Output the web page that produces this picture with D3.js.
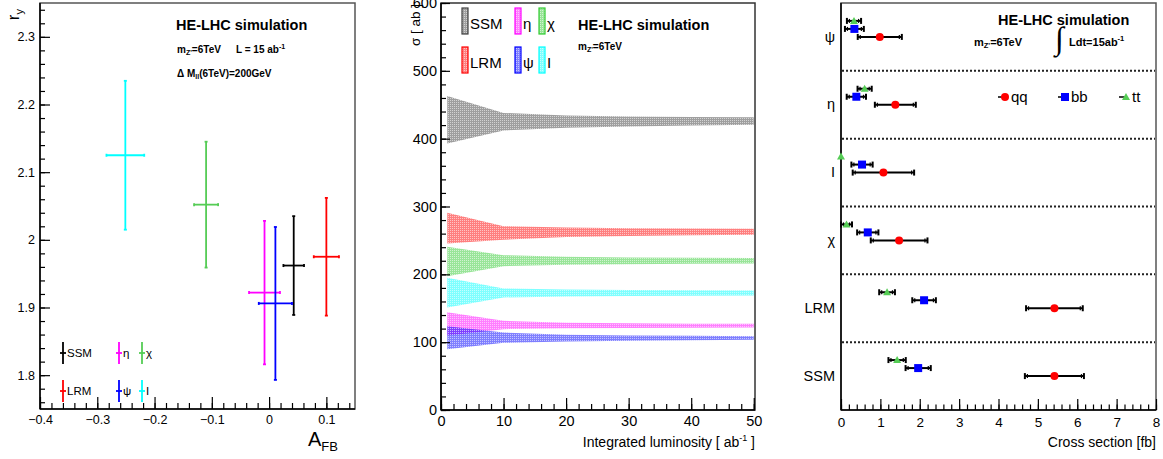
<!DOCTYPE html>
<html><head><meta charset="utf-8">
<script src="https://cdn.jsdelivr.net/npm/d3@7"></script>
<style>
body{margin:0;background:#fff;}
svg{display:block;font-family:"Liberation Sans",Arial,Helvetica,sans-serif;}
</style>
</head><body>
<svg id="c" width="1163" height="459"></svg>
<script>
// ================= DATA =================
// Panel A : r_y versus A_FB
const modelsA   = ["SSM","LRM","η","ψ","χ","I"];
const colorsA   = ["#000000","#ff0000","#ff00ff","#0000ff","#55cc55","#00ffff"];
const afbValues = [0.043, 0.100, -0.008, 0.011, -0.110, -0.251];
const afbErrors = [0.018, 0.022, 0.027, 0.029, 0.021, 0.033];
const ryValues  = [1.962, 1.975, 1.922, 1.906, 2.052, 2.125];
const ryErrors  = [0.073, 0.087, 0.106, 0.113, 0.093, 0.110];
const afbTicks  = [-0.4,-0.3,-0.2,-0.1,0,0.1];
const ryTicks   = [1.8,1.9,2.0,2.1,2.2,2.3];

// Panel B : cross-section band vs integrated luminosity
const lumiPoints = [1, 10, 20, 30, 40, 50];
const bandModels = ["SSM","η","χ","LRM","ψ","I"];
const bandColors = ["#404040","#ff00ff","#33cc33","#ff0000","#0000ff","#00ffff"];
const sigmaSSMLow  = [393, 412, 416, 418, 419.5, 420.5];
const sigmaSSMHigh = [463, 438, 434, 432.5, 431.8, 431.4];
const sigmaEtaLow  = [110, 119.2, 120.5, 121, 121.4, 121.7];
const sigmaEtaHigh = [144, 131.4, 128.5, 127.8, 127.3, 127];
const sigmaChiLow  = [197.3, 212, 214, 215, 215.5, 216];
const sigmaChiHigh = [240.6, 228.3, 226, 225, 224.4, 223.9];
const sigmaLRMLow  = [245.6, 251, 255, 256.5, 257.5, 258.3];
const sigmaLRMHigh = [290.7, 271, 269, 268, 267.5, 267.1];
const sigmaPsiLow  = [89.7, 99, 101, 102, 102.8, 103.4];
const sigmaPsiHigh = [123.6, 114.3, 111, 110, 109.3, 108.8];
const sigmaILow    = [151.2, 165.9, 167.5, 168.2, 168.6, 168.9];
const sigmaIHigh   = [194.8, 179.2, 177.5, 176.8, 176.4, 176.2];
const lumiTicks  = [0,10,20,30,40,50];
const sigmaTicks = [0,100,200,300,400,500,600];

// Panel C : cross sections per final state
const modelsC   = ["ψ","η","I","χ","LRM","SSM"];
const channels  = ["qq","bb","tt"];
const channelColors = ["#ff0000","#0000ff","#55cc55"];
const qqValues  = [0.985, 1.38, 1.077, 1.476, 5.42, 5.42];
const qqErrors  = [0.56, 0.52, 0.78, 0.72, 0.72, 0.75];
const bbValues  = [0.34, 0.39, 0.534, 0.68, 2.11, 1.96];
const bbErrors  = [0.24, 0.245, 0.27, 0.27, 0.30, 0.32];
const ttValues  = [0.33, 0.60, 0.0, 0.14, 1.17, 1.425];
const ttErrors  = [0.18, 0.18, 0.0, 0.14, 0.20, 0.22];
const xsTicks   = [0,1,2,3,4,5,6,7,8];

// ================= DRAWING =================
const svg = d3.select("#c");
const FONT = '"Liberation Sans",Arial,Helvetica,sans-serif';
const fmt = d3.format("~g");

function styleAxis(g, size){
  g.attr("font-size", size).attr("font-family", FONT);
  g.selectAll("text").attr("fill","#000");
  g.selectAll("line").attr("stroke","#000").attr("stroke-width",1.2);
  g.select(".domain").remove();
}
function minorRange(a,b,step){ return d3.range(Math.round(a/step), Math.round(b/step)+1).map(i=>+(i*step).toFixed(6)); }

// ---------- Panel A ----------
const xA = d3.scaleLinear().domain([-0.4,0.15]).range([40,355]);
const yA = d3.scaleLinear().domain([1.75,2.35]).range([409,3]);
const gA = svg.append("g");
gA.append("rect").attr("x",40).attr("y",3).attr("width",315).attr("height",406)
  .attr("fill","none").attr("stroke","#555").attr("stroke-width",1.5);
gA.append("g").attr("transform","translate(0,409)")
  .call(d3.axisBottom(xA).tickValues(minorRange(-0.4,0.14,0.02)).tickSizeInner(-6).tickSizeOuter(0).tickFormat(""))
  .call(g=>styleAxis(g,12));
gA.append("g").attr("transform","translate(0,409)")
  .call(d3.axisBottom(xA).tickValues(afbTicks).tickSizeInner(-12).tickSizeOuter(0).tickPadding(6).tickFormat(fmt))
  .call(g=>styleAxis(g,12.5));
gA.append("g").attr("transform","translate(40,0)")
  .call(d3.axisLeft(yA).tickValues(minorRange(1.76,2.34,0.02)).tickSizeInner(-5).tickSizeOuter(0).tickFormat(""))
  .call(g=>styleAxis(g,12));
gA.append("g").attr("transform","translate(40,0)")
  .call(d3.axisLeft(yA).tickValues(ryTicks).tickSizeInner(-10).tickSizeOuter(0).tickPadding(5).tickFormat(fmt))
  .call(g=>styleAxis(g,12.5));
gA.append("line").attr("x1",40).attr("x2",40).attr("y1",3).attr("y2",409).attr("stroke","#000").attr("stroke-width",1.5);
gA.append("line").attr("x1",40).attr("x2",355).attr("y1",409).attr("y2",409).attr("stroke","#000").attr("stroke-width",1.5);

// error crosses
modelsA.forEach((m,i)=>{
  const c = colorsA[i], g = gA.append("g").attr("stroke",c).attr("stroke-width",1.8);
  const cx = xA(afbValues[i]), cy = yA(ryValues[i]);
  const x0 = xA(afbValues[i]-afbErrors[i]), x1 = xA(afbValues[i]+afbErrors[i]);
  const y0 = yA(ryValues[i]-ryErrors[i]), y1 = yA(ryValues[i]+ryErrors[i]);
  g.append("line").attr("x1",x0).attr("x2",x1).attr("y1",cy).attr("y2",cy);
  g.append("line").attr("x1",cx).attr("x2",cx).attr("y1",y0).attr("y2",y1);
  [x0,x1].forEach(x=>g.append("line").attr("x1",x).attr("x2",x).attr("y1",cy-1.5).attr("y2",cy+1.5));
  [y0,y1].forEach(y=>g.append("line").attr("x1",cx-1.5).attr("x2",cx+1.5).attr("y1",y).attr("y2",y));
});
// legend A
const legColsA = [63,119,142], legRowsA = [353,391];
const legOrderA = ["SSM","η","χ","LRM","ψ","I"];
legOrderA.forEach((m,k)=>{
  const i = modelsA.indexOf(m), x = legColsA[k%3], y = legRowsA[Math.floor(k/3)];
  const g = gA.append("g").attr("stroke",colorsA[i]).attr("stroke-width",1.8);
  g.append("line").attr("x1",x).attr("x2",x).attr("y1",y-11).attr("y2",y+11);
  g.append("line").attr("x1",x-3).attr("x2",x+3).attr("y1",y).attr("y2",y);
  gA.append("text").attr("x",x+4).attr("y",y+4).attr("font-size",11.5).attr("font-family",FONT).text(m);
});
// texts A
gA.append("text").attr("x",176).attr("y",30).attr("font-size",14.5).attr("font-weight","bold").text("HE-LHC simulation");
const tA1 = gA.append("text").attr("x",177).attr("y",53).attr("font-size",10).attr("font-weight","bold");
tA1.append("tspan").text("m");
tA1.append("tspan").attr("font-size",7).attr("dy",2).text("Z'");
tA1.append("tspan").attr("dy",-2).text("=6TeV");
tA1.append("tspan").attr("x",236).text("L = 15 ab");
tA1.append("tspan").attr("font-size",7).attr("dy",-4).text("-1");
const tA2 = gA.append("text").attr("x",177).attr("y",77).attr("font-size",10).attr("font-weight","bold");
tA2.append("tspan").text("Δ M");
tA2.append("tspan").attr("font-size",7).attr("dy",2).text("ll");
tA2.append("tspan").attr("dy",-2).text("(6TeV)=200GeV");
const lA = gA.append("text").attr("transform","translate(19,9) rotate(-90)").attr("text-anchor","end").attr("font-size",17);
lA.append("tspan").text("r");
lA.append("tspan").attr("font-size",11).attr("dy",4).text("y");
const xlA = gA.append("text").attr("x",308).attr("y",446).attr("font-size",20);
xlA.append("tspan").text("A");
xlA.append("tspan").attr("font-size",13).attr("dy",5).text("FB");

// ---------- Panel B ----------
const xB = d3.scaleLinear().domain([0,50.2]).range([441,755]);
const yB = d3.scaleLinear().domain([0,600]).range([410,3]);
const gB = svg.append("g");
const defs = svg.append("defs");
bandModels.forEach((m,i)=>{
  const p = defs.append("pattern").attr("id","pat"+i).attr("width",2).attr("height",2).attr("patternUnits","userSpaceOnUse");
  p.append("rect").attr("width",2).attr("height",2).attr("fill",bandColors[i]).attr("opacity",0.5);
  p.append("rect").attr("width",1).attr("height",1).attr("fill","#ffffff").attr("opacity",0.55);
});
const lows  = [sigmaSSMLow, sigmaEtaLow, sigmaChiLow, sigmaLRMLow, sigmaPsiLow, sigmaILow];
const highs = [sigmaSSMHigh, sigmaEtaHigh, sigmaChiHigh, sigmaLRMHigh, sigmaPsiHigh, sigmaIHigh];
const area = d3.area().x(d=>xB(d.l)).y0(d=>yB(d.lo)).y1(d=>yB(d.hi));
bandModels.forEach((m,i)=>{
  const pts = lumiPoints.map((l,j)=>({l, lo:lows[i][j], hi:highs[i][j]}));
  gB.append("path").datum(pts).attr("d",area).attr("fill","url(#pat"+i+")");
});
gB.append("rect").attr("x",441).attr("y",3).attr("width",314).attr("height",407)
  .attr("fill","none").attr("stroke","#333").attr("stroke-width",1.5);
gB.append("g").attr("transform","translate(0,410)")
  .call(d3.axisBottom(xB).tickValues(minorRange(0,50,2)).tickSizeInner(-6).tickSizeOuter(0).tickFormat(""))
  .call(g=>styleAxis(g,14));
gB.append("g").attr("transform","translate(0,410)")
  .call(d3.axisBottom(xB).tickValues(lumiTicks).tickSizeInner(-12).tickSizeOuter(0).tickPadding(6).tickFormat(fmt))
  .call(g=>styleAxis(g,14.5));
gB.append("g").attr("transform","translate(441,0)")
  .call(d3.axisLeft(yB).tickValues(minorRange(0,600,20)).tickSizeInner(-5).tickSizeOuter(0).tickFormat(""))
  .call(g=>styleAxis(g,14));
gB.append("g").attr("transform","translate(441,0)")
  .call(d3.axisLeft(yB).tickValues(sigmaTicks).tickSizeInner(-9).tickSizeOuter(0).tickPadding(4).tickFormat(fmt))
  .call(g=>styleAxis(g,14.5));
gB.append("line").attr("x1",441).attr("x2",441).attr("y1",3).attr("y2",410).attr("stroke","#000").attr("stroke-width",1.5);
gB.append("line").attr("x1",441).attr("x2",755).attr("y1",410).attr("y2",410).attr("stroke","#000").attr("stroke-width",1.5);
// legend B
const legColsB = [462,515,539], legRowsB = [8,47];
bandModels.forEach((m,i)=>{
  const x = legColsB[i%3], y = legRowsB[Math.floor(i/3)];
  gB.append("rect").attr("x",x).attr("y",y).attr("width",6).attr("height",26)
    .attr("fill","url(#pat"+i+")").attr("stroke",bandColors[i]).attr("stroke-width",1.2);
  gB.append("text").attr("x",x+8).attr("y",y+21).attr("font-size",15).text(m);
});
gB.append("text").attr("x",578).attr("y",30).attr("font-size",14.5).attr("font-weight","bold").text("HE-LHC simulation");
const tB1 = gB.append("text").attr("x",578).attr("y",50).attr("font-size",10).attr("font-weight","bold");
tB1.append("tspan").text("m");
tB1.append("tspan").attr("font-size",7).attr("dy",2).text("Z'");
tB1.append("tspan").attr("dy",-2).text("=6TeV");
gB.append("text").attr("transform","translate(420,4) rotate(-90)").attr("text-anchor","end").attr("font-size",13.5).text("σ [ ab ]");
const xlB = gB.append("text").attr("x",755).attr("y",447).attr("text-anchor","end").attr("font-size",14);
xlB.append("tspan").text("Integrated luminosity [ ab");
xlB.append("tspan").attr("font-size",9).attr("dy",-6).text("-1");
xlB.append("tspan").attr("dy",6).text(" ]");

// ---------- Panel C ----------
const xC = d3.scaleLinear().domain([0,8]).range([841,1156]);
const yC = d3.scaleBand().domain(modelsC).range([3,410]).paddingInner(0);
const gC = svg.append("g");
gC.append("rect").attr("x",841).attr("y",3).attr("width",315).attr("height",407)
  .attr("fill","none").attr("stroke","#555").attr("stroke-width",1.5);
modelsC.slice(1).forEach(m=>{
  gC.append("line").attr("x1",842).attr("x2",1155).attr("y1",yC(m)).attr("y2",yC(m))
    .attr("stroke","#222").attr("stroke-width",2).attr("stroke-dasharray","2,2");
});
gC.append("g").attr("transform","translate(0,410)")
  .call(d3.axisBottom(xC).tickValues(minorRange(0,8,0.2)).tickSizeInner(-5.5).tickSizeOuter(0).tickFormat(""))
  .call(g=>styleAxis(g,14));
gC.append("g").attr("transform","translate(0,410)")
  .call(d3.axisBottom(xC).tickValues(xsTicks).tickSizeInner(-11).tickSizeOuter(0).tickPadding(7).tickFormat(fmt))
  .call(g=>styleAxis(g,13.5));
gC.append("g").attr("transform","translate(841,0)")
  .call(d3.axisLeft(yC).tickSize(0).tickPadding(6))
  .call(g=>styleAxis(g,14.5));
gC.append("line").attr("x1",841).attr("x2",841).attr("y1",3).attr("y2",410).attr("stroke","#000").attr("stroke-width",1.5);
gC.append("line").attr("x1",841).attr("x2",1156).attr("y1",410).attr("y2",410).attr("stroke","#000").attr("stroke-width",1.5);

const chanVals = [qqValues, bbValues, ttValues], chanErrs = [qqErrors, bbErrors, ttErrors];
const bw = yC.bandwidth();
const chanOffset = d3.scaleOrdinal().domain(channels).range([0, -0.118*bw, -0.236*bw]);
function marker(g, ch, x, y, s){
  s = s || 1;
  const c = channelColors[channels.indexOf(ch)];
  if(ch==="qq") g.append("circle").attr("cx",x).attr("cy",y).attr("r",4*s).attr("fill",c);
  else if(ch==="bb") g.append("rect").attr("x",x-4*s).attr("y",y-4*s).attr("width",8*s).attr("height",8*s).attr("fill",c);
  else g.append("path").attr("d",`M${x},${y-4*s}L${x+4*s},${y+3*s}L${x-4*s},${y+3*s}Z`).attr("fill",c);
}
modelsC.forEach((m,i)=>{
  channels.forEach((ch,k)=>{
    const v = chanVals[k][i], e = chanErrs[k][i];
    const y = yC(m) + bw/2 + chanOffset(ch);
    if(e>0){
      const x0 = xC(v-e), x1 = xC(v+e);
      const g = gC.append("g").attr("stroke","#000").attr("stroke-width",2);
      g.append("line").attr("x1",x0).attr("x2",x1).attr("y1",y).attr("y2",y);
      [x0,x1].forEach(x=>g.append("line").attr("x1",x).attr("x2",x).attr("y1",y-3).attr("y2",y+3));
      [x0+2.5,x1-2.5].forEach(x=>g.append("line").attr("x1",x).attr("x2",x).attr("y1",y-2).attr("y2",y+2).attr("stroke-width",1.2));
    }
    marker(gC, ch, xC(v), y);
  });
});
// legend C
const legXC = [1005,1065,1126];
channels.forEach((ch,k)=>{
  const x = legXC[k], y = 97;
  gC.append("line").attr("x1",x-7).attr("x2",x).attr("y1",y).attr("y2",y).attr("stroke","#000").attr("stroke-width",1.5);
  marker(gC, ch, x, y);
  gC.append("text").attr("x",x+6).attr("y",y+5).attr("font-size",15).text(ch);
});
gC.append("text").attr("x",998).attr("y",25).attr("font-size",14.5).attr("font-weight","bold").text("HE-LHC simulation");
const tC1 = gC.append("text").attr("x",974).attr("y",46).attr("font-size",11).attr("font-weight","bold");
tC1.append("tspan").text("m");
tC1.append("tspan").attr("font-size",7.5).attr("dy",2).text("Z'");
tC1.append("tspan").attr("dy",-2).text("=6TeV");
gC.append("text").attr("x",1055).attr("y",49).attr("font-size",32).attr("font-family","'Liberation Serif',serif").text("∫");
const tC2 = gC.append("text").attr("x",1069).attr("y",46).attr("font-size",11).attr("font-weight","bold");
tC2.append("tspan").text("Ldt=15ab");
tC2.append("tspan").attr("font-size",7.5).attr("dy",-5).text("-1");
gC.append("text").attr("x",1156).attr("y",447).attr("text-anchor","end").attr("font-size",14).text("Cross section [fb]");
</script>
</body></html>
